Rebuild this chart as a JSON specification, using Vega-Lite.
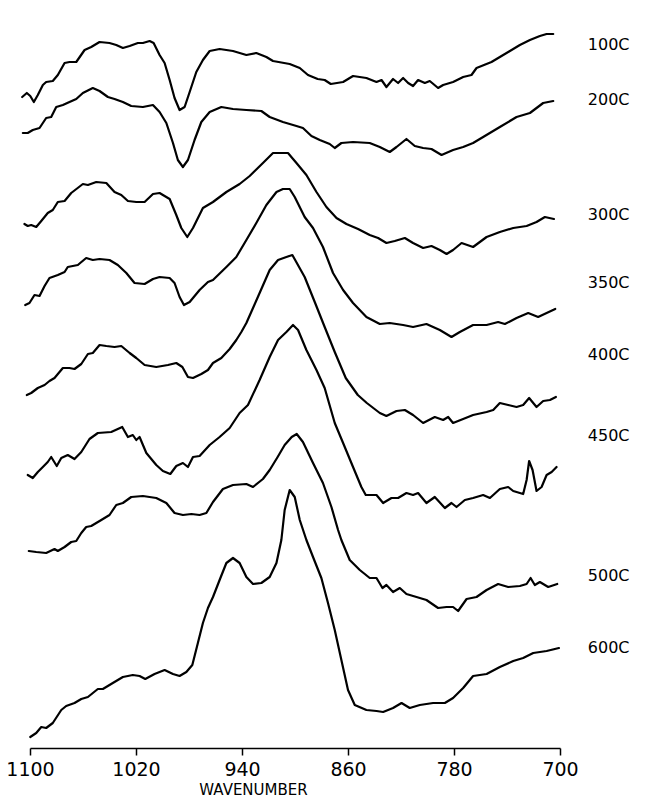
{
"$schema":"https://vega.github.io/schema/vega-lite/v6.json",
"width":530,"height":748,
"autosize":{"type":"none"},
"padding":{"left":30,"top":0,"right":96,"bottom":52},
"background":"white",
"config":{"view":{"stroke":null},"font":"DejaVu Sans"},
"datasets":{
"labels":[
{"series":"100C","wn":679,"abs":703},{"series":"200C","wn":679,"abs":648},{"series":"300C","wn":679,"abs":533},{"series":"350C","wn":679,"abs":465},{"series":"400C","wn":679,"abs":393},{"series":"450C","wn":679,"abs":312},{"series":"500C","wn":679,"abs":172},{"series":"600C","wn":679,"abs":100}
],
"spectra":[
{"series":"100C","wn":1105.9,"abs":651},{"series":"100C","wn":1102.4,"abs":655},{"series":"100C","wn":1099.8,"abs":652},{"series":"100C","wn":1097.1,"abs":646},{"series":"100C","wn":1094.1,"abs":653},{"series":"100C","wn":1090.3,"abs":663},{"series":"100C","wn":1087.8,"abs":666},{"series":"100C","wn":1082.8,"abs":667},{"series":"100C","wn":1079.0,"abs":673},{"series":"100C","wn":1073.9,"abs":685},{"series":"100C","wn":1070.2,"abs":686},{"series":"100C","wn":1065.1,"abs":686},{"series":"100C","wn":1058.8,"abs":698},{"series":"100C","wn":1053.8,"abs":701},{"series":"100C","wn":1047.5,"abs":706},{"series":"100C","wn":1040.0,"abs":705},{"series":"100C","wn":1034.9,"abs":703},{"series":"100C","wn":1029.9,"abs":700},{"series":"100C","wn":1024.8,"abs":702},{"series":"100C","wn":1018.6,"abs":705},{"series":"100C","wn":1014.8,"abs":705},{"series":"100C","wn":1009.7,"abs":707},{"series":"100C","wn":1006.7,"abs":705},{"series":"100C","wn":1002.2,"abs":693},{"series":"100C","wn":998.4,"abs":685},{"series":"100C","wn":994.6,"abs":668},{"series":"100C","wn":990.9,"abs":650},{"series":"100C","wn":987.1,"abs":638},{"series":"100C","wn":983.3,"abs":641},{"series":"100C","wn":979.5,"abs":656},{"series":"100C","wn":974.5,"abs":676},{"series":"100C","wn":969.5,"abs":688},{"series":"100C","wn":964.4,"abs":697},{"series":"100C","wn":956.9,"abs":699},{"series":"100C","wn":946.8,"abs":697},{"series":"100C","wn":936.7,"abs":693},{"series":"100C","wn":929.2,"abs":695},{"series":"100C","wn":921.6,"abs":691},{"series":"100C","wn":916.6,"abs":687},{"series":"100C","wn":904.0,"abs":684},{"series":"100C","wn":896.4,"abs":680},{"series":"100C","wn":890.2,"abs":673},{"series":"100C","wn":882.9,"abs":669},{"series":"100C","wn":877.6,"abs":668},{"series":"100C","wn":873.0,"abs":664},{"series":"100C","wn":863.7,"abs":666},{"series":"100C","wn":856.2,"abs":672},{"series":"100C","wn":846.1,"abs":670},{"series":"100C","wn":838.5,"abs":666},{"series":"100C","wn":834.7,"abs":668},{"series":"100C","wn":831.0,"abs":661},{"series":"100C","wn":826.0,"abs":669},{"series":"100C","wn":822.2,"abs":665},{"series":"100C","wn":818.4,"abs":670},{"series":"100C","wn":814.6,"abs":665},{"series":"100C","wn":810.9,"abs":662},{"series":"100C","wn":807.1,"abs":668},{"series":"100C","wn":802.0,"abs":665},{"series":"100C","wn":798.3,"abs":667},{"series":"100C","wn":792.0,"abs":660},{"series":"100C","wn":788.2,"abs":663},{"series":"100C","wn":780.7,"abs":666},{"series":"100C","wn":773.1,"abs":671},{"series":"100C","wn":766.8,"abs":673},{"series":"100C","wn":763.0,"abs":680},{"series":"100C","wn":751.7,"abs":686},{"series":"100C","wn":745.4,"abs":691},{"series":"100C","wn":737.8,"abs":697},{"series":"100C","wn":730.3,"abs":703},{"series":"100C","wn":722.7,"abs":708},{"series":"100C","wn":715.2,"abs":712},{"series":"100C","wn":710.1,"abs":714},{"series":"100C","wn":705.1,"abs":714},
{"series":"200C","wn":1105.4,"abs":615},{"series":"200C","wn":1101.7,"abs":615},{"series":"200C","wn":1097.9,"abs":618},{"series":"200C","wn":1092.8,"abs":620},{"series":"200C","wn":1087.8,"abs":630},{"series":"200C","wn":1084.0,"abs":631},{"series":"200C","wn":1080.2,"abs":641},{"series":"200C","wn":1075.2,"abs":643},{"series":"200C","wn":1070.2,"abs":646},{"series":"200C","wn":1065.1,"abs":649},{"series":"200C","wn":1060.1,"abs":655},{"series":"200C","wn":1052.6,"abs":660},{"series":"200C","wn":1047.5,"abs":657},{"series":"200C","wn":1041.2,"abs":651},{"series":"200C","wn":1036.2,"abs":649},{"series":"200C","wn":1029.9,"abs":646},{"series":"200C","wn":1023.6,"abs":642},{"series":"200C","wn":1014.8,"abs":641},{"series":"200C","wn":1007.2,"abs":643},{"series":"200C","wn":1002.2,"abs":636},{"series":"200C","wn":997.1,"abs":625},{"series":"200C","wn":992.1,"abs":605},{"series":"200C","wn":988.4,"abs":588},{"series":"200C","wn":984.6,"abs":581},{"series":"200C","wn":980.8,"abs":588},{"series":"200C","wn":975.8,"abs":608},{"series":"200C","wn":970.7,"abs":626},{"series":"200C","wn":964.4,"abs":636},{"series":"200C","wn":955.6,"abs":641},{"series":"200C","wn":946.8,"abs":639},{"series":"200C","wn":936.7,"abs":638},{"series":"200C","wn":925.4,"abs":637},{"series":"200C","wn":919.1,"abs":631},{"series":"200C","wn":909.1,"abs":626},{"series":"200C","wn":898.9,"abs":622},{"series":"200C","wn":894.0,"abs":620},{"series":"200C","wn":887.6,"abs":612},{"series":"200C","wn":881.3,"abs":608},{"series":"200C","wn":873.8,"abs":604},{"series":"200C","wn":870.0,"abs":600},{"series":"200C","wn":865.0,"abs":605},{"series":"200C","wn":856.2,"abs":606},{"series":"200C","wn":843.6,"abs":605},{"series":"200C","wn":836.0,"abs":601},{"series":"200C","wn":828.5,"abs":596},{"series":"200C","wn":823.4,"abs":601},{"series":"200C","wn":815.9,"abs":609},{"series":"200C","wn":809.6,"abs":602},{"series":"200C","wn":803.3,"abs":600},{"series":"200C","wn":797.0,"abs":599},{"series":"200C","wn":789.4,"abs":593},{"series":"200C","wn":780.7,"abs":598},{"series":"200C","wn":773.1,"abs":601},{"series":"200C","wn":765.6,"abs":605},{"series":"200C","wn":758.0,"abs":611},{"series":"200C","wn":745.4,"abs":621},{"series":"200C","wn":732.8,"abs":631},{"series":"200C","wn":722.7,"abs":635},{"series":"200C","wn":717.7,"abs":640},{"series":"200C","wn":712.7,"abs":645},{"series":"200C","wn":705.1,"abs":647},
{"series":"300C","wn":1104.2,"abs":524},{"series":"300C","wn":1101.7,"abs":522},{"series":"300C","wn":1099.1,"abs":523},{"series":"300C","wn":1095.3,"abs":521},{"series":"300C","wn":1091.5,"abs":527},{"series":"300C","wn":1086.6,"abs":535},{"series":"300C","wn":1082.8,"abs":538},{"series":"300C","wn":1079.0,"abs":546},{"series":"300C","wn":1073.9,"abs":547},{"series":"300C","wn":1068.9,"abs":555},{"series":"300C","wn":1060.1,"abs":564},{"series":"300C","wn":1056.3,"abs":563},{"series":"300C","wn":1050.0,"abs":566},{"series":"300C","wn":1042.4,"abs":565},{"series":"300C","wn":1036.2,"abs":556},{"series":"300C","wn":1031.1,"abs":553},{"series":"300C","wn":1026.1,"abs":547},{"series":"300C","wn":1019.8,"abs":546},{"series":"300C","wn":1013.5,"abs":546},{"series":"300C","wn":1007.2,"abs":554},{"series":"300C","wn":1002.2,"abs":555},{"series":"300C","wn":994.6,"abs":549},{"series":"300C","wn":989.6,"abs":533},{"series":"300C","wn":985.8,"abs":520},{"series":"300C","wn":981.3,"abs":511},{"series":"300C","wn":977.0,"abs":520},{"series":"300C","wn":969.5,"abs":540},{"series":"300C","wn":961.9,"abs":546},{"series":"300C","wn":951.8,"abs":556},{"series":"300C","wn":941.8,"abs":564},{"series":"300C","wn":934.2,"abs":572},{"series":"300C","wn":924.2,"abs":585},{"series":"300C","wn":916.6,"abs":595},{"series":"300C","wn":909.1,"abs":595},{"series":"300C","wn":905.3,"abs":595},{"series":"300C","wn":898.9,"abs":585},{"series":"300C","wn":891.4,"abs":573},{"series":"300C","wn":883.8,"abs":556},{"series":"300C","wn":876.3,"abs":541},{"series":"300C","wn":868.7,"abs":530},{"series":"300C","wn":861.2,"abs":524},{"series":"300C","wn":852.4,"abs":519},{"series":"300C","wn":843.6,"abs":513},{"series":"300C","wn":837.3,"abs":510},{"series":"300C","wn":831.0,"abs":505},{"series":"300C","wn":824.7,"abs":507},{"series":"300C","wn":817.1,"abs":510},{"series":"300C","wn":810.9,"abs":505},{"series":"300C","wn":803.3,"abs":500},{"series":"300C","wn":797.0,"abs":502},{"series":"300C","wn":790.7,"abs":498},{"series":"300C","wn":785.6,"abs":494},{"series":"300C","wn":780.7,"abs":498},{"series":"300C","wn":774.3,"abs":505},{"series":"300C","wn":765.6,"abs":501},{"series":"300C","wn":755.4,"abs":511},{"series":"300C","wn":745.4,"abs":516},{"series":"300C","wn":735.3,"abs":520},{"series":"300C","wn":725.2,"abs":522},{"series":"300C","wn":717.7,"abs":526},{"series":"300C","wn":711.4,"abs":531},{"series":"300C","wn":704.6,"abs":529},
{"series":"350C","wn":1103.6,"abs":443},{"series":"350C","wn":1100.4,"abs":445},{"series":"350C","wn":1096.6,"abs":453},{"series":"350C","wn":1092.8,"abs":452},{"series":"350C","wn":1089.0,"abs":462},{"series":"350C","wn":1085.3,"abs":470},{"series":"350C","wn":1079.0,"abs":473},{"series":"350C","wn":1073.9,"abs":476},{"series":"350C","wn":1071.5,"abs":481},{"series":"350C","wn":1063.9,"abs":483},{"series":"350C","wn":1057.6,"abs":490},{"series":"350C","wn":1052.6,"abs":488},{"series":"350C","wn":1047.5,"abs":489},{"series":"350C","wn":1040.0,"abs":488},{"series":"350C","wn":1033.7,"abs":483},{"series":"350C","wn":1027.3,"abs":475},{"series":"350C","wn":1021.1,"abs":465},{"series":"350C","wn":1013.5,"abs":464},{"series":"350C","wn":1007.2,"abs":469},{"series":"350C","wn":1002.2,"abs":471},{"series":"350C","wn":994.6,"abs":470},{"series":"350C","wn":990.9,"abs":465},{"series":"350C","wn":987.1,"abs":451},{"series":"350C","wn":983.8,"abs":443},{"series":"350C","wn":979.5,"abs":446},{"series":"350C","wn":972.0,"abs":458},{"series":"350C","wn":965.7,"abs":466},{"series":"350C","wn":961.9,"abs":468},{"series":"350C","wn":951.8,"abs":481},{"series":"350C","wn":944.3,"abs":491},{"series":"350C","wn":936.7,"abs":508},{"series":"350C","wn":929.2,"abs":525},{"series":"350C","wn":921.6,"abs":543},{"series":"350C","wn":914.0,"abs":556},{"series":"350C","wn":909.1,"abs":559},{"series":"350C","wn":904.0,"abs":559},{"series":"350C","wn":900.2,"abs":551},{"series":"350C","wn":892.7,"abs":531},{"series":"350C","wn":886.4,"abs":520},{"series":"350C","wn":878.9,"abs":501},{"series":"350C","wn":871.3,"abs":475},{"series":"350C","wn":863.7,"abs":458},{"series":"350C","wn":856.2,"abs":445},{"series":"350C","wn":846.1,"abs":431},{"series":"350C","wn":836.0,"abs":424},{"series":"350C","wn":828.5,"abs":425},{"series":"350C","wn":818.4,"abs":423},{"series":"350C","wn":810.9,"abs":421},{"series":"350C","wn":800.8,"abs":424},{"series":"350C","wn":790.7,"abs":418},{"series":"350C","wn":781.9,"abs":411},{"series":"350C","wn":775.6,"abs":416},{"series":"350C","wn":765.6,"abs":423},{"series":"350C","wn":755.4,"abs":423},{"series":"350C","wn":746.7,"abs":426},{"series":"350C","wn":741.6,"abs":424},{"series":"350C","wn":732.8,"abs":430},{"series":"350C","wn":724.0,"abs":435},{"series":"350C","wn":716.5,"abs":431},{"series":"350C","wn":710.1,"abs":435},{"series":"350C","wn":703.6,"abs":439},
{"series":"400C","wn":1102.4,"abs":353},{"series":"400C","wn":1099.1,"abs":355},{"series":"400C","wn":1094.1,"abs":360},{"series":"400C","wn":1089.0,"abs":363},{"series":"400C","wn":1085.3,"abs":367},{"series":"400C","wn":1081.5,"abs":370},{"series":"400C","wn":1075.2,"abs":380},{"series":"400C","wn":1070.2,"abs":380},{"series":"400C","wn":1066.4,"abs":379},{"series":"400C","wn":1061.3,"abs":384},{"series":"400C","wn":1056.3,"abs":394},{"series":"400C","wn":1052.6,"abs":395},{"series":"400C","wn":1047.5,"abs":403},{"series":"400C","wn":1042.4,"abs":402},{"series":"400C","wn":1036.2,"abs":401},{"series":"400C","wn":1031.1,"abs":402},{"series":"400C","wn":1024.8,"abs":395},{"series":"400C","wn":1019.8,"abs":390},{"series":"400C","wn":1013.5,"abs":383},{"series":"400C","wn":1004.7,"abs":381},{"series":"400C","wn":995.9,"abs":383},{"series":"400C","wn":989.6,"abs":385},{"series":"400C","wn":985.0,"abs":381},{"series":"400C","wn":980.8,"abs":371},{"series":"400C","wn":977.0,"abs":370},{"series":"400C","wn":970.7,"abs":374},{"series":"400C","wn":965.7,"abs":378},{"series":"400C","wn":961.9,"abs":385},{"series":"400C","wn":955.6,"abs":390},{"series":"400C","wn":949.3,"abs":399},{"series":"400C","wn":944.3,"abs":408},{"series":"400C","wn":940.5,"abs":416},{"series":"400C","wn":936.7,"abs":425},{"series":"400C","wn":926.7,"abs":455},{"series":"400C","wn":919.1,"abs":478},{"series":"400C","wn":912.8,"abs":488},{"series":"400C","wn":906.5,"abs":491},{"series":"400C","wn":902.0,"abs":493},{"series":"400C","wn":892.7,"abs":471},{"series":"400C","wn":885.1,"abs":446},{"series":"400C","wn":877.6,"abs":421},{"series":"400C","wn":870.0,"abs":396},{"series":"400C","wn":861.7,"abs":370},{"series":"400C","wn":852.6,"abs":353},{"series":"400C","wn":845.8,"abs":345},{"series":"400C","wn":836.0,"abs":335},{"series":"400C","wn":831.0,"abs":332},{"series":"400C","wn":823.4,"abs":337},{"series":"400C","wn":817.1,"abs":338},{"series":"400C","wn":810.9,"abs":333},{"series":"400C","wn":803.3,"abs":325},{"series":"400C","wn":794.5,"abs":331},{"series":"400C","wn":788.2,"abs":328},{"series":"400C","wn":784.4,"abs":331},{"series":"400C","wn":780.7,"abs":325},{"series":"400C","wn":773.1,"abs":329},{"series":"400C","wn":765.6,"abs":333},{"series":"400C","wn":755.4,"abs":336},{"series":"400C","wn":750.4,"abs":338},{"series":"400C","wn":745.4,"abs":345},{"series":"400C","wn":739.1,"abs":343},{"series":"400C","wn":732.8,"abs":341},{"series":"400C","wn":727.8,"abs":343},{"series":"400C","wn":723.3,"abs":350},{"series":"400C","wn":717.7,"abs":341},{"series":"400C","wn":712.7,"abs":347},{"series":"400C","wn":707.6,"abs":348},{"series":"400C","wn":703.1,"abs":351},
{"series":"450C","wn":1101.7,"abs":273},{"series":"450C","wn":1097.9,"abs":270},{"series":"450C","wn":1094.1,"abs":276},{"series":"450C","wn":1090.3,"abs":281},{"series":"450C","wn":1086.6,"abs":286},{"series":"450C","wn":1084.0,"abs":291},{"series":"450C","wn":1079.8,"abs":282},{"series":"450C","wn":1076.4,"abs":290},{"series":"450C","wn":1071.5,"abs":293},{"series":"450C","wn":1066.4,"abs":289},{"series":"450C","wn":1061.3,"abs":296},{"series":"450C","wn":1055.1,"abs":309},{"series":"450C","wn":1048.8,"abs":315},{"series":"450C","wn":1038.7,"abs":316},{"series":"450C","wn":1030.4,"abs":321},{"series":"450C","wn":1026.1,"abs":311},{"series":"450C","wn":1022.4,"abs":313},{"series":"450C","wn":1019.8,"abs":308},{"series":"450C","wn":1017.3,"abs":311},{"series":"450C","wn":1012.2,"abs":295},{"series":"450C","wn":1004.7,"abs":283},{"series":"450C","wn":999.7,"abs":277},{"series":"450C","wn":994.1,"abs":274},{"series":"450C","wn":989.6,"abs":282},{"series":"450C","wn":984.6,"abs":285},{"series":"450C","wn":980.8,"abs":281},{"series":"450C","wn":977.0,"abs":291},{"series":"450C","wn":972.0,"abs":292},{"series":"450C","wn":964.4,"abs":303},{"series":"450C","wn":956.9,"abs":311},{"series":"450C","wn":949.3,"abs":320},{"series":"450C","wn":941.8,"abs":335},{"series":"450C","wn":935.5,"abs":343},{"series":"450C","wn":926.7,"abs":368},{"series":"450C","wn":919.1,"abs":391},{"series":"450C","wn":912.8,"abs":408},{"series":"450C","wn":906.5,"abs":416},{"series":"450C","wn":901.5,"abs":423},{"series":"450C","wn":897.7,"abs":418},{"series":"450C","wn":891.4,"abs":398},{"series":"450C","wn":883.8,"abs":378},{"series":"450C","wn":877.6,"abs":360},{"series":"450C","wn":870.0,"abs":325},{"series":"450C","wn":863.7,"abs":305},{"series":"450C","wn":856.2,"abs":281},{"series":"450C","wn":849.9,"abs":261},{"series":"450C","wn":846.6,"abs":253},{"series":"450C","wn":838.5,"abs":253},{"series":"450C","wn":833.5,"abs":245},{"series":"450C","wn":827.2,"abs":250},{"series":"450C","wn":822.2,"abs":250},{"series":"450C","wn":815.9,"abs":255},{"series":"450C","wn":810.9,"abs":253},{"series":"450C","wn":807.1,"abs":255},{"series":"450C","wn":800.8,"abs":245},{"series":"450C","wn":794.5,"abs":251},{"series":"450C","wn":786.9,"abs":240},{"series":"450C","wn":781.9,"abs":245},{"series":"450C","wn":778.1,"abs":241},{"series":"450C","wn":771.8,"abs":248},{"series":"450C","wn":765.6,"abs":250},{"series":"450C","wn":758.0,"abs":253},{"series":"450C","wn":752.9,"abs":250},{"series":"450C","wn":745.4,"abs":259},{"series":"450C","wn":739.1,"abs":261},{"series":"450C","wn":735.3,"abs":257},{"series":"450C","wn":727.8,"abs":254},{"series":"450C","wn":725.2,"abs":268},{"series":"450C","wn":723.3,"abs":287},{"series":"450C","wn":720.7,"abs":278},{"series":"450C","wn":717.7,"abs":257},{"series":"450C","wn":713.9,"abs":261},{"series":"450C","wn":710.1,"abs":273},{"series":"450C","wn":706.3,"abs":276},{"series":"450C","wn":702.6,"abs":281},
{"series":"500C","wn":1100.9,"abs":197},{"series":"500C","wn":1095.3,"abs":196},{"series":"500C","wn":1087.8,"abs":195},{"series":"500C","wn":1081.5,"abs":199},{"series":"500C","wn":1079.0,"abs":197},{"series":"500C","wn":1073.9,"abs":201},{"series":"500C","wn":1068.9,"abs":206},{"series":"500C","wn":1065.1,"abs":207},{"series":"500C","wn":1061.3,"abs":215},{"series":"500C","wn":1057.6,"abs":221},{"series":"500C","wn":1053.8,"abs":222},{"series":"500C","wn":1050.0,"abs":225},{"series":"500C","wn":1046.2,"abs":228},{"series":"500C","wn":1040.0,"abs":233},{"series":"500C","wn":1034.9,"abs":243},{"series":"500C","wn":1029.9,"abs":245},{"series":"500C","wn":1023.6,"abs":251},{"series":"500C","wn":1014.8,"abs":252},{"series":"500C","wn":1004.7,"abs":250},{"series":"500C","wn":997.1,"abs":245},{"series":"500C","wn":990.9,"abs":235},{"series":"500C","wn":984.6,"abs":233},{"series":"500C","wn":978.2,"abs":234},{"series":"500C","wn":972.0,"abs":233},{"series":"500C","wn":966.9,"abs":235},{"series":"500C","wn":961.9,"abs":246},{"series":"500C","wn":954.4,"abs":259},{"series":"500C","wn":946.8,"abs":263},{"series":"500C","wn":936.7,"abs":264},{"series":"500C","wn":931.7,"abs":261},{"series":"500C","wn":924.2,"abs":269},{"series":"500C","wn":919.1,"abs":278},{"series":"500C","wn":913.1,"abs":291},{"series":"500C","wn":907.8,"abs":303},{"series":"500C","wn":902.5,"abs":311},{"series":"500C","wn":898.7,"abs":314},{"series":"500C","wn":894.0,"abs":306},{"series":"500C","wn":886.4,"abs":285},{"series":"500C","wn":878.9,"abs":265},{"series":"500C","wn":872.5,"abs":241},{"series":"500C","wn":867.5,"abs":218},{"series":"500C","wn":865.0,"abs":208},{"series":"500C","wn":858.7,"abs":188},{"series":"500C","wn":851.1,"abs":178},{"series":"500C","wn":843.6,"abs":170},{"series":"500C","wn":838.5,"abs":170},{"series":"500C","wn":834.0,"abs":160},{"series":"500C","wn":831.0,"abs":163},{"series":"500C","wn":826.0,"abs":156},{"series":"500C","wn":820.9,"abs":160},{"series":"500C","wn":815.9,"abs":154},{"series":"500C","wn":808.3,"abs":151},{"series":"500C","wn":800.8,"abs":148},{"series":"500C","wn":792.0,"abs":140},{"series":"500C","wn":785.6,"abs":141},{"series":"500C","wn":780.7,"abs":141},{"series":"500C","wn":776.9,"abs":137},{"series":"500C","wn":770.5,"abs":149},{"series":"500C","wn":763.0,"abs":151},{"series":"500C","wn":755.4,"abs":158},{"series":"500C","wn":746.7,"abs":164},{"series":"500C","wn":739.1,"abs":161},{"series":"500C","wn":730.3,"abs":162},{"series":"500C","wn":725.2,"abs":164},{"series":"500C","wn":722.2,"abs":170},{"series":"500C","wn":719.0,"abs":163},{"series":"500C","wn":715.2,"abs":166},{"series":"500C","wn":708.9,"abs":161},{"series":"500C","wn":702.1,"abs":164},
{"series":"600C","wn":1099.8,"abs":11},{"series":"600C","wn":1095.3,"abs":15},{"series":"600C","wn":1091.5,"abs":21},{"series":"600C","wn":1087.8,"abs":20},{"series":"600C","wn":1082.8,"abs":25},{"series":"600C","wn":1076.4,"abs":38},{"series":"600C","wn":1072.7,"abs":42},{"series":"600C","wn":1066.4,"abs":45},{"series":"600C","wn":1061.3,"abs":49},{"series":"600C","wn":1056.3,"abs":51},{"series":"600C","wn":1048.8,"abs":59},{"series":"600C","wn":1045.0,"abs":59},{"series":"600C","wn":1037.5,"abs":65},{"series":"600C","wn":1029.9,"abs":71},{"series":"600C","wn":1022.4,"abs":73},{"series":"600C","wn":1017.3,"abs":72},{"series":"600C","wn":1013.0,"abs":69},{"series":"600C","wn":1006.0,"abs":74},{"series":"600C","wn":998.4,"abs":78},{"series":"600C","wn":992.1,"abs":74},{"series":"600C","wn":987.1,"abs":72},{"series":"600C","wn":982.0,"abs":76},{"series":"600C","wn":977.5,"abs":83},{"series":"600C","wn":973.3,"abs":105},{"series":"600C","wn":969.5,"abs":125},{"series":"600C","wn":965.7,"abs":140},{"series":"600C","wn":961.9,"abs":151},{"series":"600C","wn":956.9,"abs":168},{"series":"600C","wn":951.8,"abs":185},{"series":"600C","wn":946.8,"abs":190},{"series":"600C","wn":941.8,"abs":185},{"series":"600C","wn":936.7,"abs":171},{"series":"600C","wn":931.7,"abs":164},{"series":"600C","wn":925.4,"abs":165},{"series":"600C","wn":919.1,"abs":171},{"series":"600C","wn":914.0,"abs":185},{"series":"600C","wn":910.3,"abs":208},{"series":"600C","wn":907.8,"abs":238},{"series":"600C","wn":904.0,"abs":258},{"series":"600C","wn":900.2,"abs":251},{"series":"600C","wn":896.4,"abs":228},{"series":"600C","wn":891.4,"abs":208},{"series":"600C","wn":886.4,"abs":191},{"series":"600C","wn":880.1,"abs":170},{"series":"600C","wn":875.1,"abs":145},{"series":"600C","wn":870.0,"abs":118},{"series":"600C","wn":865.0,"abs":88},{"series":"600C","wn":860.0,"abs":58},{"series":"600C","wn":854.9,"abs":43},{"series":"600C","wn":846.1,"abs":38},{"series":"600C","wn":838.5,"abs":37},{"series":"600C","wn":833.5,"abs":36},{"series":"600C","wn":826.0,"abs":40},{"series":"600C","wn":819.6,"abs":45},{"series":"600C","wn":813.4,"abs":40},{"series":"600C","wn":805.8,"abs":43},{"series":"600C","wn":795.8,"abs":45},{"series":"600C","wn":786.9,"abs":45},{"series":"600C","wn":780.7,"abs":50},{"series":"600C","wn":773.1,"abs":60},{"series":"600C","wn":765.6,"abs":72},{"series":"600C","wn":755.4,"abs":74},{"series":"600C","wn":745.4,"abs":81},{"series":"600C","wn":735.3,"abs":87},{"series":"600C","wn":727.8,"abs":90},{"series":"600C","wn":720.2,"abs":95},{"series":"600C","wn":710.1,"abs":97},{"series":"600C","wn":700.8,"abs":100}
]},
"layer":[
{"data":{"name":"spectra"},
 "mark":{"type":"line","color":"black","strokeWidth":2.2,"strokeJoin":"round","strokeCap":"round"},
 "encoding":{
  "x":{"field":"wn","type":"quantitative",
   "scale":{"domain":[700,1100],"reverse":true,"nice":false,"zero":false},
   "axis":{"values":[1100,1020,940,860,780,700],"format":"d","grid":false,"domainColor":"black","domainWidth":1.5,"tickColor":"black","tickWidth":1.5,"tickSize":7,"labelFontSize":19,"labelColor":"black","labelFont":"DejaVu Sans","labelPadding":5,"labelFlush":false,"labelOverlap":false,"title":"WAVENUMBER","titleFont":"DejaVu Sans","titleFontSize":15,"titleFontWeight":"normal","titleColor":"black","titleX":223,"titleY":46,"titleAlign":"center","titleBaseline":"alphabetic"}},
  "y":{"field":"abs","type":"quantitative","scale":{"domain":[0,748],"nice":false,"zero":false},"axis":null},
  "detail":{"field":"series"}
 }},
{"data":{"name":"labels"},
 "mark":{"type":"text","align":"left","baseline":"middle","fontSize":16,"font":"DejaVu Sans","color":"black"},
 "encoding":{
  "x":{"field":"wn","type":"quantitative"},
  "y":{"field":"abs","type":"quantitative"},
  "text":{"field":"series"}
 }}
]
}
